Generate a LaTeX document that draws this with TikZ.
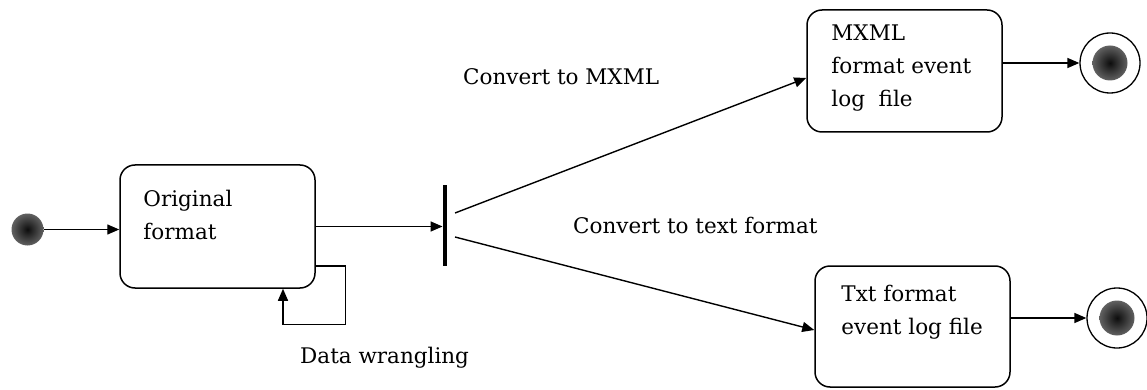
\documentclass[tikz,border=0pt]{standalone}
\usepackage{fontspec}
\setmainfont{DejaVu Serif}
\usetikzlibrary{arrows.meta,calc}
\begin{document}
\begin{tikzpicture}[x=1pt,y=-1pt,
  every node/.style={inner sep=0pt},
  arr/.style={-{Triangle[length=12pt,width=10pt]}, line width=1.4pt},
  state/.style={draw, line width=1.5pt, rounded corners=15pt, rectangle},
  txt/.style={font=\fontsize{21.5}{33}\selectfont, align=left},
  endstate/.style={circle, draw, line width=1.3pt, minimum size=60pt},
  dot/.style={shading=radial, inner color=black!95, outer color=black!62},
  ball/.style={circle, dot, minimum size=32pt}
  ]
\useasboundingbox (0,0) rectangle (1147,390);
% states
\node[ball] (start) at (27.5,229.5) {};
\node[state, minimum width=195pt, minimum height=123pt] (orig) at (217.5,226.5) {};
\node[txt, anchor=north west] (origt) at ($(orig.north west)+(24,26)$) {Original\\format};
\node[fill, minimum width=4.5pt, minimum height=81pt] (bar) at (445,225) {};
\node[state, minimum width=195pt, minimum height=122pt] (mxml) at (904.5,71) {};
\node[txt, anchor=north west] (mxmlt) at ($(mxml.north west)+(25,15)$) {MXML\\format event\\log\ \ file};
\node[state, minimum width=195pt, minimum height=121pt] (txtb) at (912.5,326.5) {};
\node[txt, anchor=north west] (txtt) at ($(txtb.north west)+(27,20)$) {Txt format\\event log file};
\node[endstate] (end1) at (1110,63) {};
\shade[dot] (end1.center) circle[radius=17.5pt];
\node[endstate] (end2) at (1117,318) {};
\shade[dot] (end2.center) circle[radius=17.5pt];
% labels
\node[txt, anchor=base west] (l1) at (463,85) {Convert to MXML};
\node[txt, anchor=base west] (l2) at (573,233) {Convert to text format};
\node[txt, anchor=base west] (l3) at (300,363) {Data wrangling};
% connectors
\draw[arr] (start) -- (start -| orig.west);
\draw[arr] (orig.east) -- (orig.east -| bar.west);
\draw[arr] ($(orig.east)+(0,39.5)$) -- ++(30,0) |- ($(orig.south)+(65.5,36)$) -- ($(orig.south)+(65.5,0)$);
\draw[arr] ($(bar.center)+(10,-12)$) -- ($(mxml.west)+(0,7)$);
\draw[arr] ($(bar.center)+(10,12)$) -- ($(txtb.west)+(0,3.5)$);
\draw[arr] ($(mxml.east)+(0,-8)$) -- (end1);
\draw[arr] ($(txtb.east)+(0,-8.5)$) -- (end2);
\end{tikzpicture}
\end{document}
